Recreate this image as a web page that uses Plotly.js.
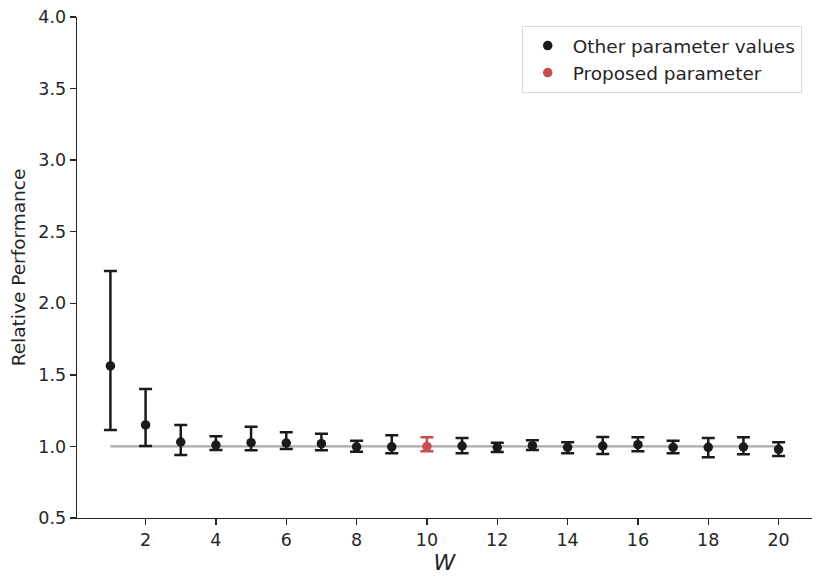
<!DOCTYPE html>
<html>
<head>
<meta charset="utf-8">
<script src="https://cdn.plot.ly/plotly-3.0.1.min.js"></script>
<style>html,body{margin:0;padding:0;background:#fff;}#chart{width:830px;height:584px;}</style>
</head>
<body>
<div id="chart"></div>
<script>
// W values and relative performance (mean, upper bound, lower bound)
const wValues = [1, 2, 3, 4, 5, 6, 7, 8, 9, 10, 11, 12, 13, 14, 15, 16, 17, 18, 19, 20];
const meanPerf = [1.562, 1.150, 1.031, 1.010, 1.026, 1.024, 1.019, 0.997, 0.997, 1.000, 1.003, 0.994, 1.005, 0.994, 1.003, 1.012, 0.994, 0.994, 0.996, 0.980];
const upperPerf = [2.226, 1.401, 1.150, 1.071, 1.138, 1.099, 1.089, 1.040, 1.078, 1.064, 1.059, 1.026, 1.043, 1.029, 1.066, 1.064, 1.040, 1.059, 1.064, 1.029];
const lowerPerf = [1.115, 1.003, 0.940, 0.975, 0.973, 0.982, 0.973, 0.963, 0.952, 0.966, 0.952, 0.961, 0.975, 0.952, 0.947, 0.966, 0.952, 0.924, 0.945, 0.933];
const proposedW = 10;
const baselineValue = 1.0;
const yTicks = [0.5, 1.0, 1.5, 2.0, 2.5, 3.0, 3.5, 4.0];
const xTicks = [2, 4, 6, 8, 10, 12, 14, 16, 18, 20];

function pick(isProposed) {
  const x = [], y = [], up = [], dn = [];
  wValues.forEach((w, i) => {
    if ((w === proposedW) === isProposed) {
      x.push(w); y.push(meanPerf[i]);
      up.push(upperPerf[i] - meanPerf[i]);
      dn.push(meanPerf[i] - lowerPerf[i]);
    }
  });
  return {x, y, up, dn};
}
const other = pick(false);
const prop = pick(true);

const black = '#1a1a1a';
const red = '#c44e52';

const traces = [
  {
    x: [wValues[0], wValues[wValues.length - 1]],
    y: [baselineValue, baselineValue],
    mode: 'lines', line: {color: '#aaaaaa', width: 2.2},
    showlegend: false, hoverinfo: 'skip'
  },
  {
    x: other.x, y: other.y, mode: 'markers', name: 'Other parameter values',
    marker: {color: black, size: 9.5},
    error_y: {type: 'data', symmetric: false, array: other.up, arrayminus: other.dn,
              color: black, thickness: 2.5, width: 6.5}
  },
  {
    x: prop.x, y: prop.y, mode: 'markers', name: 'Proposed parameter',
    marker: {color: red, size: 9.5},
    error_y: {type: 'data', symmetric: false, array: prop.up, arrayminus: prop.dn,
              color: red, thickness: 2.5, width: 6.5}
  }
];

const layout = {
  width: 830, height: 584,
  margin: {l: 77, r: 18, t: 17, b: 66},
  paper_bgcolor: '#ffffff', plot_bgcolor: '#ffffff',
  font: {family: 'DejaVu Sans, sans-serif', size: 17.5, color: '#262626'},
  showlegend: true,
  legend: {
    x: 0.986, y: 0.982, xanchor: 'right', yanchor: 'top',
    bgcolor: 'rgba(255,255,255,0.8)', bordercolor: '#d9d9d9', borderwidth: 1,
    font: {size: 18.5, color: '#262626'}, itemwidth: 40, tracegroupgap: 0
  },
  xaxis: {
    range: [0.05, 20.95], tickvals: xTicks, ticktext: xTicks.map(String),
    showgrid: false, zeroline: false, showline: true, linecolor: '#262626', linewidth: 1.3,
    ticks: 'outside', ticklen: 6, tickwidth: 1.3, tickcolor: '#262626',
    tickfont: {size: 17.5},
    title: {text: '<i>W</i>', font: {size: 22, family: 'DejaVu Sans, sans-serif'}, standoff: 4}
  },
  yaxis: {
    range: [0.5, 4.0], tickvals: yTicks, ticktext: yTicks.map(v => v.toFixed(1)),
    showgrid: false, zeroline: false, showline: true, linecolor: '#262626', linewidth: 1.3,
    ticks: 'outside', ticklen: 6, tickwidth: 1.3, tickcolor: '#262626',
    tickfont: {size: 17.5},
    title: {text: 'Relative Performance', font: {size: 18.5}, standoff: 8}
  }
};

Plotly.newPlot('chart', traces, layout, {displayModeBar: false, staticPlot: true});
</script>
</body>
</html>
